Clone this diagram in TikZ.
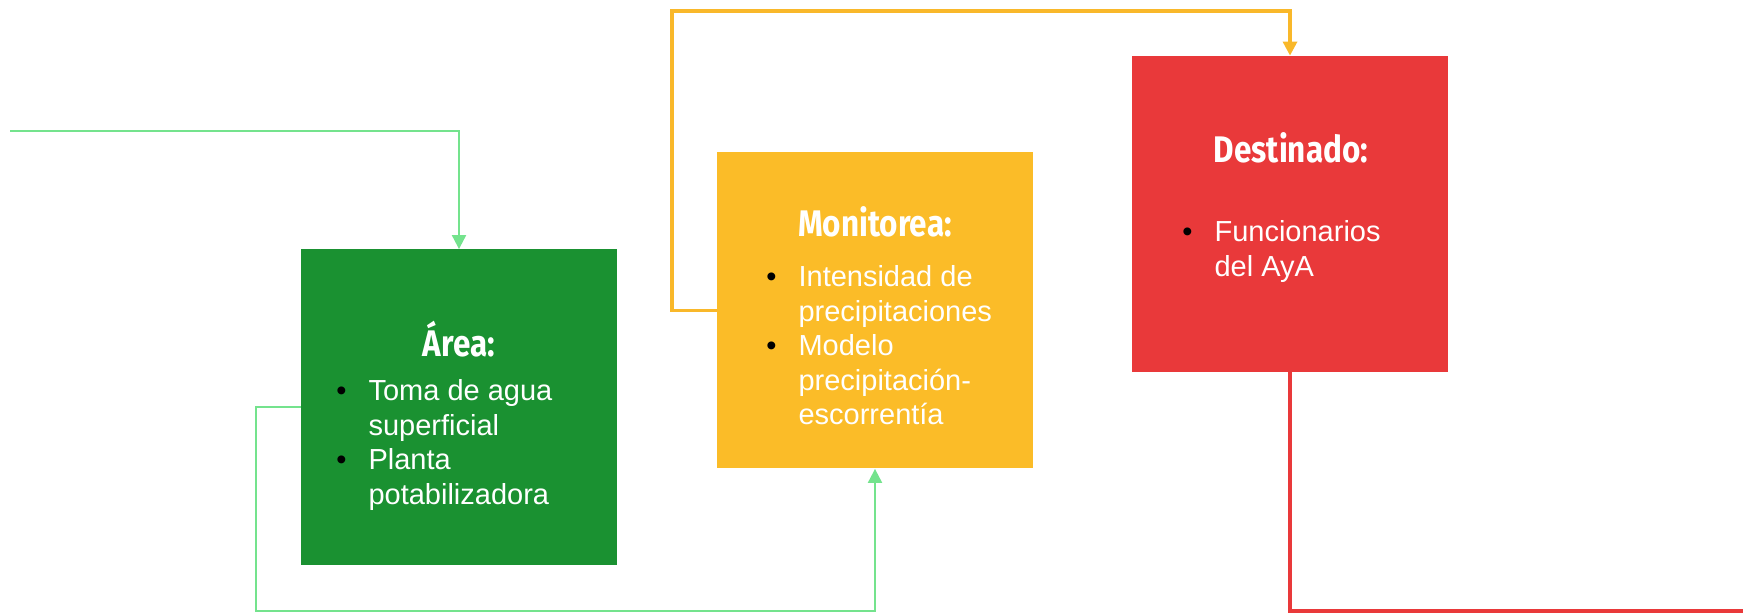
\documentclass[tikz,border=0pt]{standalone}
\usepackage{fontspec}
\setmainfont{Liberation Sans}
\newfontfamily\headfont[FakeStretch=0.85]{Fira Sans}
\usepackage{tikz}
\usetikzlibrary{positioning, arrows.meta, calc}
\usepackage{xcolor}

\definecolor{areagreen}{HTML}{1A9131}
\definecolor{monyellow}{HTML}{FBBC28}
\definecolor{destred}{HTML}{E9393A}
\definecolor{linkgreen}{HTML}{74E38D}
\definecolor{linkorange}{HTML}{F9B82A}

\newcommand{\bul}{\textcolor{black}{\textbullet}}

\begin{document}
\begin{tikzpicture}[
    x=0.5pt, y=-0.5pt,
    >={Triangle[width=7pt,length=7pt]},
    box/.style={minimum width=158pt, minimum height=158pt, inner sep=0pt},
    head/.style={text=white, anchor=base, inner sep=0pt, font=\headfont\bfseries\fontsize{18.5}{22}\selectfont},
    items/.style={text=white, anchor=base west, inner sep=0pt, font=\fontsize{14.5}{17.25}\selectfont},
    greenarrow/.style={->, line width=1pt, linkgreen},
    orangearrow/.style={->, line width=1.6pt, linkorange},
    redline/.style={line width=1.8pt, destred},
]
\useasboundingbox (0,0) rectangle (1743,613);

% ── Boxes ──
\node[box, fill=areagreen] (area) at (459,407.5) {};
\node[box, fill=monyellow] (monitorea) at (875,310.5) {};
\node[box, fill=destred] (destinado) at (1290,214) {};

% ── Titles ──
\node[head] (areatitle) at (459,357) {Área:};
\node[head] (montitle) at (875,237) {Monitorea:};
\node[head] (desttitle) at (1291,163) {Destinado:};

% ── Item lists ──
\node[items] (arealist) at (336,401)
    {\begin{tabular}[t]{@{}l@{\hspace{11pt}}l@{}}
     \bul & Toma de agua\\ & superficial\\ \bul & Planta\\ & potabilizadora
     \end{tabular}};
\node[items] (monlist) at (766,287)
    {\begin{tabular}[t]{@{}l@{\hspace{11pt}}l@{}}
     \bul & Intensidad de\\ & precipitaciones\\ \bul & Modelo\\ & precipitación-\\ & escorrentía
     \end{tabular}};
\node[items] (destlist) at (1182,242)
    {\begin{tabular}[t]{@{}l@{\hspace{11pt}}l@{}}
     \bul & Funcionarios\\ & del AyA
     \end{tabular}};

% ── Connector corners ──
\coordinate (src) at (10,131);
\coordinate (loopl) at (256,611);
\coordinate (loopt) at (672,11);
\coordinate (sink) at (1743,611);

% ── Arrows ──
% incoming line -> Area
\draw[greenarrow] (src) -| (area.north);
% Area -> Monitorea (round the bottom)
\draw[greenarrow] (area.west) -| (loopl) -| (monitorea.south);
% Monitorea -> Destinado (round the top)
\draw[orangearrow] (monitorea.west) -| (loopt) -| (destinado.north);
% Destinado -> out
\draw[redline] (destinado.south) |- (sink);

\end{tikzpicture}
\end{document}
